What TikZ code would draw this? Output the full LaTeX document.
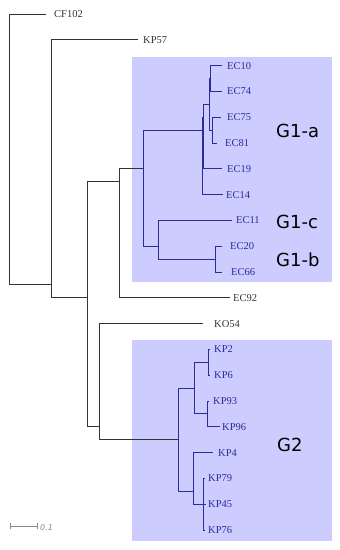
\documentclass[tikz,border=0pt]{standalone}
\usepackage{fontspec}
\setmainfont{Liberation Serif}
\newfontfamily\grpfont{DejaVu Sans}
\definecolor{treegray}{HTML}{333333}
\definecolor{treeblue}{HTML}{2B2B9B}
\definecolor{boxfill}{HTML}{CCCCFF}
\definecolor{scalegray}{HTML}{8A8A8A}
\begin{document}
\begin{tikzpicture}[x=1pt,y=-1pt,
  edge/.style={draw=treegray,line width=1pt},
  bedge/.style={draw=treeblue,line width=1pt},
  leaf/.style={anchor=base west,inner sep=0pt,yshift=-3.5pt,font=\fontsize{10.5}{12}\selectfont,text=treegray},
  bleaf/.style={leaf,text=treeblue},
  grp/.style={anchor=west,inner sep=0pt,font=\grpfont\fontsize{18}{20}\selectfont,text=black},
  groupbox/.style={fill=boxfill,draw=none}]
\useasboundingbox (0,0) rectangle (340,550);
% group boxes
\fill[groupbox] (132,57) rectangle (332,282);
\fill[groupbox] (132,340) rectangle (332,541);
% internal nodes
\coordinate (R) at (9,272);
\coordinate (N1) at (51,284.9);
\coordinate (N2) at (87,297.8);
\coordinate (N3) at (119,181.7);
\coordinate (N4) at (99,426.8);
\coordinate (G1) at (143,168.8);
\coordinate (G1a) at (202,130.1);
\coordinate (X) at (203.5,117.2);
\coordinate (Y) at (209.5,104.3);
\coordinate (P) at (210.5,78.5);
\coordinate (Q) at (212.5,130.1);
\coordinate (G1bc) at (158,246.2);
\coordinate (G1b) at (215,259.1);
\coordinate (G2) at (178,439.7);
\coordinate (G2a) at (194,388.1);
\coordinate (G2a1) at (208,362.3);
\coordinate (G2a2) at (207,413.9);
\coordinate (G2b) at (193,491.3);
\coordinate (G2b2) at (203,504.2);
% leaf ends
\coordinate (cCF102) at (46,14);
\coordinate (cKP57) at (138,39.8);
\coordinate (cEC10) at (222,65.6);
\coordinate (cEC74) at (222,91.4);
\coordinate (cEC75) at (221,117.2);
\coordinate (cEC81) at (217,143);
\coordinate (cEC19) at (222,168.8);
\coordinate (cEC14) at (223,194.6);
\coordinate (cEC11) at (232,220.4);
\coordinate (cEC20) at (222,246.2);
\coordinate (cEC66) at (222,272);
\coordinate (cEC92) at (230,297.8);
\coordinate (cKO54) at (203,323.6);
\coordinate (cKP2) at (210,349.4);
\coordinate (cKP6) at (210,375.2);
\coordinate (cKP93) at (209,401);
\coordinate (cKP96) at (220,426.8);
\coordinate (cKP4) at (213,452.6);
\coordinate (cKP79) at (204.5,478.4);
\coordinate (cKP45) at (206,504.2);
\coordinate (cKP76) at (204.5,530);
% labels
\node[leaf] (lCF102) at (54,14) {CF102};
\node[leaf] (lKP57) at (143,39.8) {KP57};
\node[bleaf] (lEC10) at (227,65.6) {EC10};
\node[bleaf] (lEC74) at (227,91.4) {EC74};
\node[bleaf] (lEC75) at (227,117.2) {EC75};
\node[bleaf] (lEC81) at (225,143) {EC81};
\node[bleaf] (lEC19) at (227,168.8) {EC19};
\node[bleaf] (lEC14) at (226,194.6) {EC14};
\node[bleaf] (lEC11) at (236,220.4) {EC11};
\node[bleaf] (lEC20) at (230,246.2) {EC20};
\node[bleaf] (lEC66) at (231,272) {EC66};
\node[leaf] (lEC92) at (233,297.8) {EC92};
\node[leaf] (lKO54) at (214,323.6) {KO54};
\node[bleaf] (lKP2) at (214,349.4) {KP2};
\node[bleaf] (lKP6) at (214,375.2) {KP6};
\node[bleaf] (lKP93) at (213,401) {KP93};
\node[bleaf] (lKP96) at (222,426.8) {KP96};
\node[bleaf] (lKP4) at (218,452.6) {KP4};
\node[bleaf] (lKP79) at (208,478.4) {KP79};
\node[bleaf] (lKP45) at (208,504.2) {KP45};
\node[bleaf] (lKP76) at (208,530) {KP76};
% group labels
\node[grp] (tG1a) at (276,131) {G1-a};
\node[grp] (tG1c) at (276,222) {G1-c};
\node[grp] (tG1b) at (276,260) {G1-b};
\node[grp] (tG2) at (277,445) {G2};
% gray edges
\draw[edge] (R) |- (cCF102);
\draw[edge] (R) |- (N1);
\draw[edge] (N1) |- (cKP57);
\draw[edge] (N1) |- (N2);
\draw[edge] (N2) |- (N3);
\draw[edge] (N2) |- (N4);
\draw[edge] (N3) |- (cEC92);
\draw[edge] (N3) |- (G1);
\draw[edge] (N4) |- (cKO54);
\draw[edge] (N4) |- (G2);
% G1 edges
\draw[bedge] (G1) |- (G1a);
\draw[bedge] (G1) |- (G1bc);
\draw[bedge] (G1a) |- (X);
\draw[bedge] (G1a) |- (cEC14);
\draw[bedge] (X) |- (Y);
\draw[bedge] (X) |- (cEC19);
\draw[bedge] (Y) |- (P);
\draw[bedge] (Y) |- (Q);
\draw[bedge] (P) |- (cEC10);
\draw[bedge] (P) |- (cEC74);
\draw[bedge] (Q) |- (cEC75);
\draw[bedge] (Q) |- (cEC81);
\draw[bedge] (G1bc) |- (cEC11);
\draw[bedge] (G1bc) |- (G1b);
\draw[bedge] (G1b) |- (cEC20);
\draw[bedge] (G1b) |- (cEC66);
% G2 edges
\draw[bedge] (G2) |- (G2a);
\draw[bedge] (G2) |- (G2b);
\draw[bedge] (G2a) |- (G2a1);
\draw[bedge] (G2a) |- (G2a2);
\draw[bedge] (G2a1) |- (cKP2);
\draw[bedge] (G2a1) |- (cKP6);
\draw[bedge] (G2a2) |- (cKP93);
\draw[bedge] (G2a2) |- (cKP96);
\draw[bedge] (G2b) |- (cKP4);
\draw[bedge] (G2b) |- (G2b2);
\draw[bedge] (G2b2) |- (cKP79);
\draw[bedge] (G2b2) |- (cKP45);
\draw[bedge] (G2b2) |- (cKP76);
% scale bar
\coordinate (sbL) at (10,526);
\coordinate (sbR) at (37,526);
\draw[scalegray,line width=0.8pt] (sbL) -- (sbR);
\draw[scalegray,line width=0.8pt] ([yshift=3pt]sbL) -- ([yshift=-3pt]sbL);
\draw[scalegray,line width=0.8pt] ([yshift=3pt]sbR) -- ([yshift=-3pt]sbR);
\node[anchor=base west,inner sep=0pt,text=scalegray,font=\grpfont\itshape\fontsize{8}{10}\selectfont] (sbT) at (40,530) {0.1};
\end{tikzpicture}
\end{document}
